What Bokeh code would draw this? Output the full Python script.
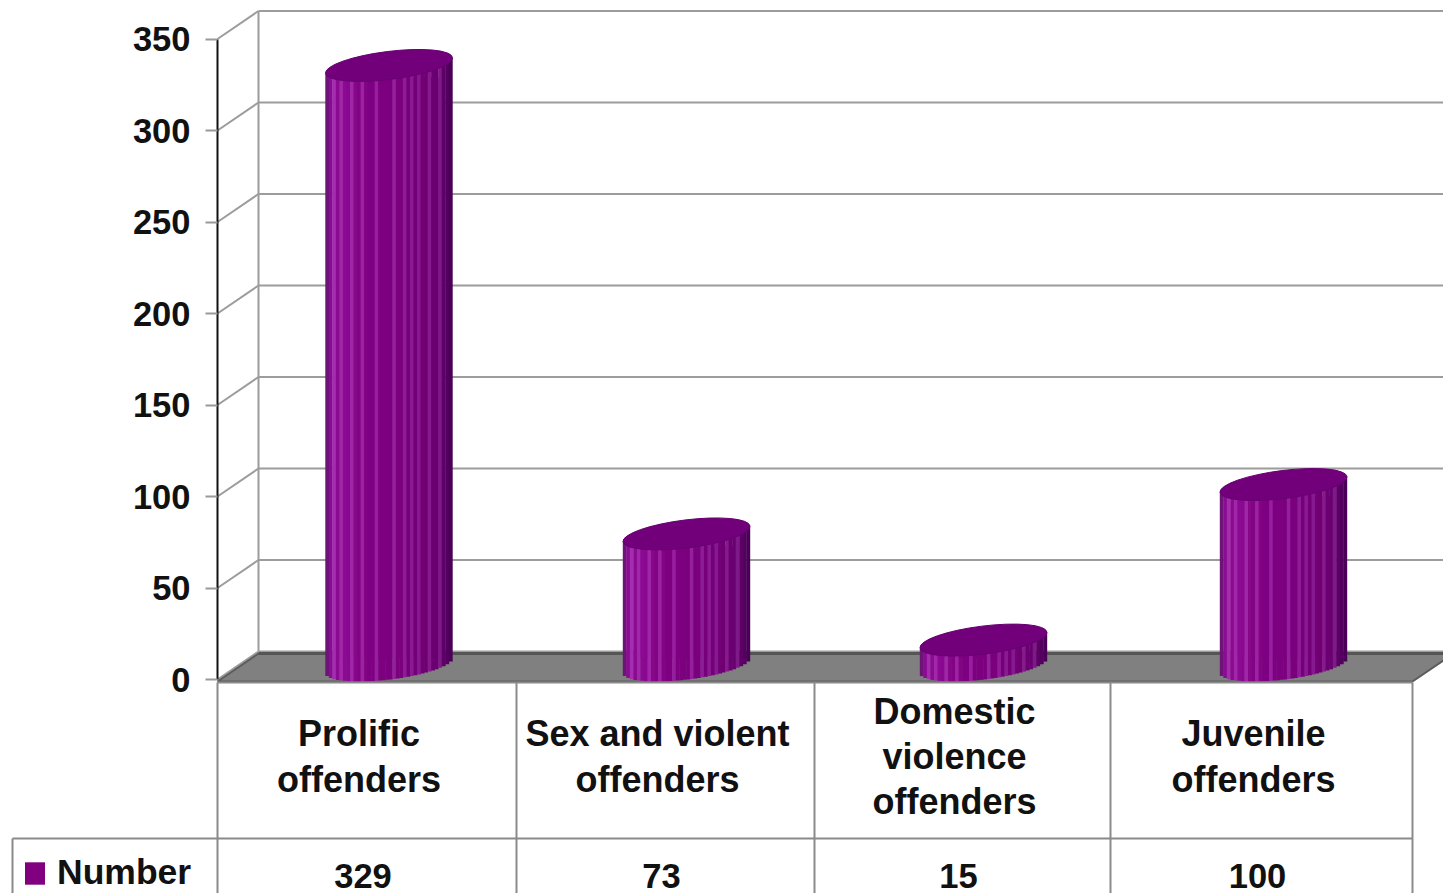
import math
from bokeh.embed import file_html
from bokeh.resources import INLINE
from bokeh.plotting import figure
from bokeh.models import Range1d, FixedTicker, Legend, LegendItem
from bokeh.core.properties import value

categories = ["Prolific\noffenders", "Sex and violent\noffenders", "Domestic\nviolence\noffenders", "Juvenile\noffenders"]
numbers = [329, 73, 15, 100]
ticks = [0, 50, 100, 150, 200, 250, 300, 350]
series_name = "Number"

shades = ["#6c1478", "#8a0c92", "#a42cae", "#8a0a90", "#a028a8", "#8c0a92", "#880890", "#a026a8",
          "#860888", "#820486", "#9c22a2", "#820484", "#7e0082", "#7e0082", "#981ea0", "#7c0080",
          "#7c0080", "#7c0080", "#7a007e", "#94209c", "#7a007e", "#7a007e", "#8e1c96", "#76007a",
          "#8a1a92", "#740078", "#861890", "#720076", "#70006f", "#841a8c", "#6c0072", "#680070",
          "#7e1a88", "#5e0068", "#540060", "#4a0056"]

W, H = 1443, 893
LEFT = 217; CELL = 298.75; ZERO = 679; PXU = 1.83
DX, DY = 41, 28
def xd(px): return (px - LEFT) / CELL
def yd(py): return (ZERO - py) / PXU

p = figure(width=W, height=H, output_backend="svg", toolbar_location=None,
           x_range=Range1d(xd(0), xd(W)), y_range=Range1d(yd(H), yd(0)),
           x_axis_location=None, min_border_left=0, min_border_right=0,
           min_border_top=0, min_border_bottom=0, outline_line_color=None,
           background_fill_color="white", border_fill_color="white")
p.grid.visible = False

ax = p.yaxis[0]
ax.fixed_location = 0
ax.ticker = FixedTicker(ticks=ticks)
ax.bounds = (0, 350)
ax.axis_line_color = "#111111"; ax.axis_line_width = 2
ax.major_tick_line_color = "#999999"; ax.major_tick_line_width = 2
ax.major_tick_out = 12; ax.major_tick_in = 0; ax.minor_tick_line_color = None
ax.major_label_standoff = 15
ax.major_label_text_font = "Liberation Sans"; ax.major_label_text_font_style = "bold"
ax.major_label_text_font_size = "34.5px"; ax.major_label_text_color = "#111111"

dep_x, dep_y = xd(LEFT + DX), DY / PXU
xend = xd(W)
GRID = "#9c9c9c"
p.segment(x0=[0] * len(ticks), y0=ticks, x1=[dep_x] * len(ticks), y1=[t + dep_y for t in ticks], line_color=GRID, line_width=2)
p.segment(x0=[dep_x] * len(ticks), y0=[t + dep_y for t in ticks], x1=[xend] * len(ticks), y1=[t + dep_y for t in ticks], line_color=GRID, line_width=2)
p.segment(x0=[dep_x], y0=[dep_y], x1=[dep_x], y1=[350 + dep_y], line_color=GRID, line_width=2)

floor_front, floor_back = yd(681), yd(653)
p.patch(x=[0, dep_x, xd(1453), xd(1412)], y=[floor_front, floor_back, floor_back, floor_front],
        fill_color="#808080", line_color="#5c5c5c", line_width=2)
p.segment(x0=[dep_x], y0=[floor_back], x1=[xend], y1=[floor_back], line_color="#555555", line_width=3)

A, B_, TH = 64.0, 14.0, math.radians(7.07)
TOP_SHIFT = 12; BASE_PY = 665
centers = [xd(c) for c in [388.5, 686, 983, 1283]]
qa = math.cos(TH) ** 2 / A ** 2 + math.sin(TH) ** 2 / B_ ** 2
qb = 2 * math.sin(TH) * math.cos(TH) * (1 / A ** 2 - 1 / B_ ** 2)
qc = math.sin(TH) ** 2 / A ** 2 + math.cos(TH) ** 2 / B_ ** 2
def lower(dx):
    d = max(qb ** 2 * dx ** 2 - 4 * qc * (qa * dx ** 2 - 1), 0)
    return (-qb * dx - math.sqrt(d)) / (2 * qc)
half = 63.5
n = len(shades)
sw = 2 * half / n
base_y = yd(BASE_PY)
body = p.vbar(x=centers, width=0.8 * 2 * half / CELL, top=numbers, bottom=[base_y + 4] * len(numbers),
              fill_color="#800080", line_color=None)
sx, stop, sbot, scol = [], [], [], []
for c, v in zip(centers, numbers):
    for j in range(n):
        dx = -half + (j + 0.5) * sw
        sx.append(c + dx / CELL)
        stop.append(v + (TOP_SHIFT + dx * math.tan(TH)) / PXU)
        sbot.append(base_y + lower(dx) / PXU)
        scol.append(shades[j])
p.vbar(x=sx, width=(sw + 0.4) / CELL, top=stop, bottom=sbot, fill_color=scol, line_color=None)
p.ellipse(x=centers, y=[v + TOP_SHIFT / PXU for v in numbers], width=2 * A, height=2 * B_,
          width_units="screen", height_units="screen", angle=TH,
          fill_color="#72007a", line_color="#660070", line_width=1)

TBL = "#8a8a8a"
row_y = yd(838)
edges = [xd(e) for e in [217, 516, 814, 1110, 1412]]
mids = [(a + b) / 2 for a, b in zip(edges, edges[1:])]
p.segment(x0=[0, xd(12)], y0=[yd(682), row_y], x1=[edges[-1]] * 2, y1=[yd(682), row_y], line_color=TBL, line_width=2)
p.segment(x0=edges + [xd(12)], y0=[yd(682)] * 5 + [row_y], x1=edges + [xd(12)], y1=[yd(H)] * 6, line_color=TBL, line_width=2)
p.text(x=mids, y=[yd(756)] * 4, text=categories, x_offset=-8,
       text_font=value("Liberation Sans"), text_font_style="bold", text_font_size="36px",
       text_align="center", text_baseline="middle", text_line_height=1.1, text_color="#111111")
p.text(x=mids, y=[yd(875)] * 4, text=[str(v) for v in numbers], x_offset=-4,
       text_font=value("Liberation Sans"), text_font_style="bold", text_font_size="34.5px",
       text_align="center", text_baseline="middle", text_color="#111111")

legend = Legend(items=[LegendItem(label=value(series_name), renderers=[body])],
                location=(22, 0), glyph_width=25, glyph_height=28, label_standoff=10, padding=0, margin=0,
                border_line_color=None, background_fill_alpha=0,
                label_text_font="Liberation Sans", label_text_font_style="bold",
                label_text_font_size="35.5px", label_text_color="#111111")
p.add_layout(legend)

open("out.html", "w").write(file_html(p, INLINE))
